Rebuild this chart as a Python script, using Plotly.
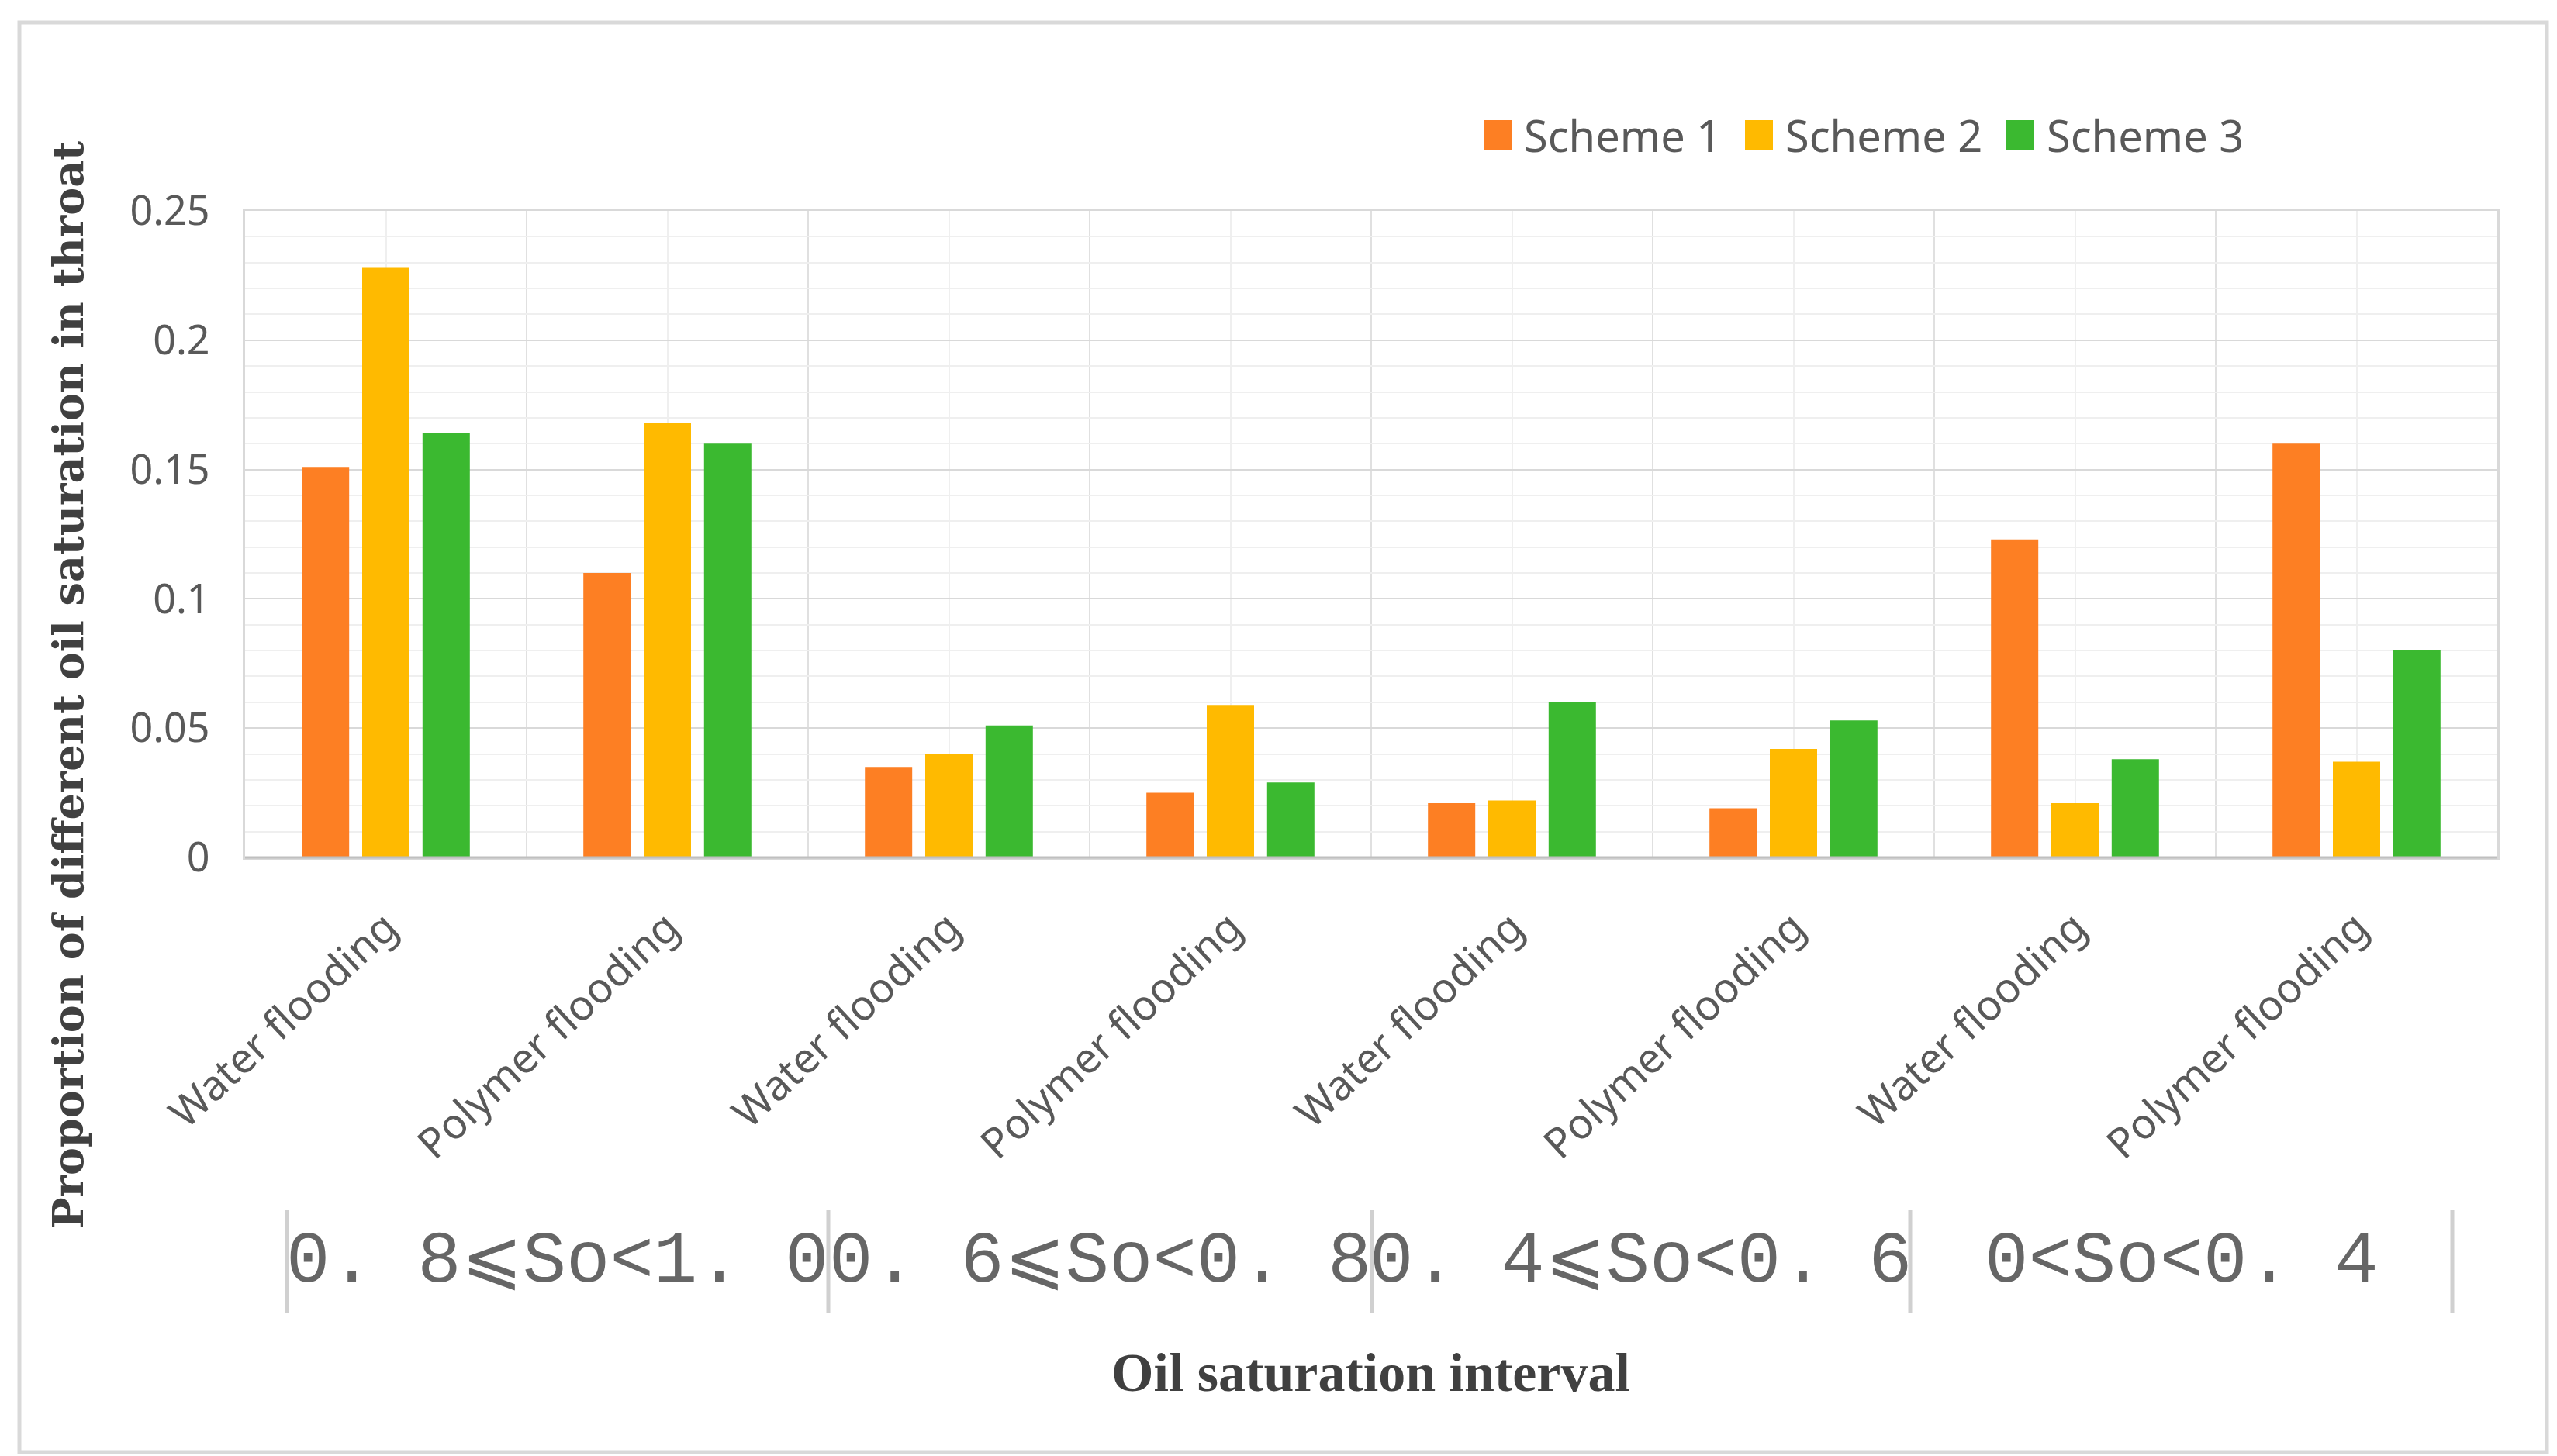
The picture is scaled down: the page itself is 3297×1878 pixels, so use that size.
import numpy as np
import plotly.graph_objects as go

# ---------------- data ----------------
methods = ["Water flooding", "Polymer flooding", "Water flooding", "Polymer flooding",
           "Water flooding", "Polymer flooding", "Water flooding", "Polymer flooding"]
intervals = ["0. 8⩽So<1. 0", "0. 6⩽So<0. 8", "0. 4⩽So<0. 6", "0<So<0. 4"]
series_names = ["Scheme 1", "Scheme 2", "Scheme 3"]
scheme1 = [0.151, 0.110, 0.035, 0.025, 0.021, 0.019, 0.123, 0.160]
scheme2 = [0.228, 0.168, 0.040, 0.059, 0.022, 0.042, 0.021, 0.037]
scheme3 = [0.164, 0.160, 0.051, 0.029, 0.060, 0.053, 0.038, 0.080]
y_ticks = [0, 0.05, 0.1, 0.15, 0.2, 0.25]
y_ticktext = ["0", "0.05", "0.1", "0.15", "0.2", "0.25"]
colors = ["#FD7F23", "#FFBA00", "#3BB930"]

W, H = 3297, 1878
PL, PR, PT, PB = 308, 3212, 264, 1098  # plot area in pixels


def px(x):
    return (x - PL) / (PR - PL)


def py(y):
    return (PB - y) / (PB - PT)


fig = go.Figure()
xs = np.arange(len(methods))
for name, vals, c in zip(series_names, [scheme1, scheme2, scheme3], colors):
    fig.add_trace(go.Bar(x=xs, y=vals, name=name, marker=dict(color=c, line=dict(width=0)),
                         showlegend=False))

fig.update_layout(
    width=W, height=H,
    margin=dict(l=PL, r=W - PR, t=PT, b=H - PB),
    paper_bgcolor="white", plot_bgcolor="white",
    barmode="group", bargap=0.357, bargroupgap=0.216,
    showlegend=False,
)

fig.update_yaxes(
    range=[0, 0.25], tickvals=y_ticks, ticktext=y_ticktext,
    tickfont=dict(family="Noto Sans", size=52, color="#595959"),
    showgrid=True, gridcolor="#d9d9d9", gridwidth=2,
    minor=dict(dtick=0.01, showgrid=True, gridcolor="#efefef", gridwidth=2),
    showline=True, linecolor="#d9d9d9", linewidth=3, mirror=True,
    ticks="", ticklabelstandoff=32, zeroline=False,
)
boundaries = list(np.arange(len(methods) + 1) - 0.5)
fig.update_xaxes(
    range=[-0.5, len(methods) - 0.5], tickvals=list(xs), ticktext=methods,
    tickangle=-43,
    tickfont=dict(family="Noto Sans", size=54, color="#595959"),
    showgrid=True, gridcolor="#efefef", gridwidth=2,
    minor=dict(tickmode="array", tickvals=boundaries, showgrid=True, gridcolor="#e0e0e0", gridwidth=2),
    showline=True, linecolor="#d9d9d9", linewidth=3, mirror=True,
    ticks="", ticklabelstandoff=34, zeroline=False,
)

shapes = []
annotations = []
# outer frame
shapes.append(dict(type="rect", xref="paper", yref="paper", x0=px(17), x1=px(3276), y0=py(21), y1=py(1865),
                   line=dict(color="#d9d9d9", width=5), layer="below"))
# bottom axis line
shapes.append(dict(type="line", xref="paper", yref="paper", x0=0, x1=1, y0=0, y1=0,
                   line=dict(color="#bfbfbf", width=3)))

# custom legend
leg_x0, leg_step, leg_y = 1905, 337, 166
for i, (name, c) in enumerate(zip(series_names, colors)):
    x0 = leg_x0 + i * leg_step
    shapes.append(dict(type="rect", xref="paper", yref="paper", x0=px(x0), x1=px(x0 + 36),
                       y0=py(leg_y + 19), y1=py(leg_y - 19), fillcolor=c, line=dict(width=0)))
    annotations.append(dict(text=name, xref="paper", yref="paper", x=px(x0 + 50), y=py(leg_y),
                            xanchor="left", yanchor="middle", showarrow=False,
                            font=dict(family="Noto Sans", size=56, color="#595959")))

# interval group labels with separators
sep_px = [362, 1060, 1761, 2455, 3154]
for s in sep_px:
    shapes.append(dict(type="line", xref="paper", yref="paper", x0=px(s), x1=px(s), y0=py(1553), y1=py(1686),
                       line=dict(color="#d0d0d0", width=5)))
for i, lab in enumerate(intervals):
    cx = (sep_px[i] + sep_px[i + 1]) / 2
    annotations.append(dict(text=lab, xref="paper", yref="paper", x=px(cx), y=py(1620),
                            xanchor="center", yanchor="middle", showarrow=False,
                            font=dict(family="Liberation Mono", size=94, color="#666666")))

# axis titles
annotations.append(dict(text="<b>Oil saturation interval</b>", xref="paper", yref="paper",
                        x=px(1759), y=py(1762), xanchor="center", yanchor="middle", showarrow=False,
                        font=dict(family="Liberation Serif", size=70, color="#404040")))
annotations.append(dict(text="<b>Proportion of different oil saturation in throat</b>", xref="paper", yref="paper",
                        x=px(80), y=py(876), xanchor="center", yanchor="middle", showarrow=False, textangle=-90,
                        font=dict(family="DejaVu Serif", size=54, color="#404040")))

fig.update_layout(shapes=shapes, annotations=annotations)
fig.write_html("out.html")
